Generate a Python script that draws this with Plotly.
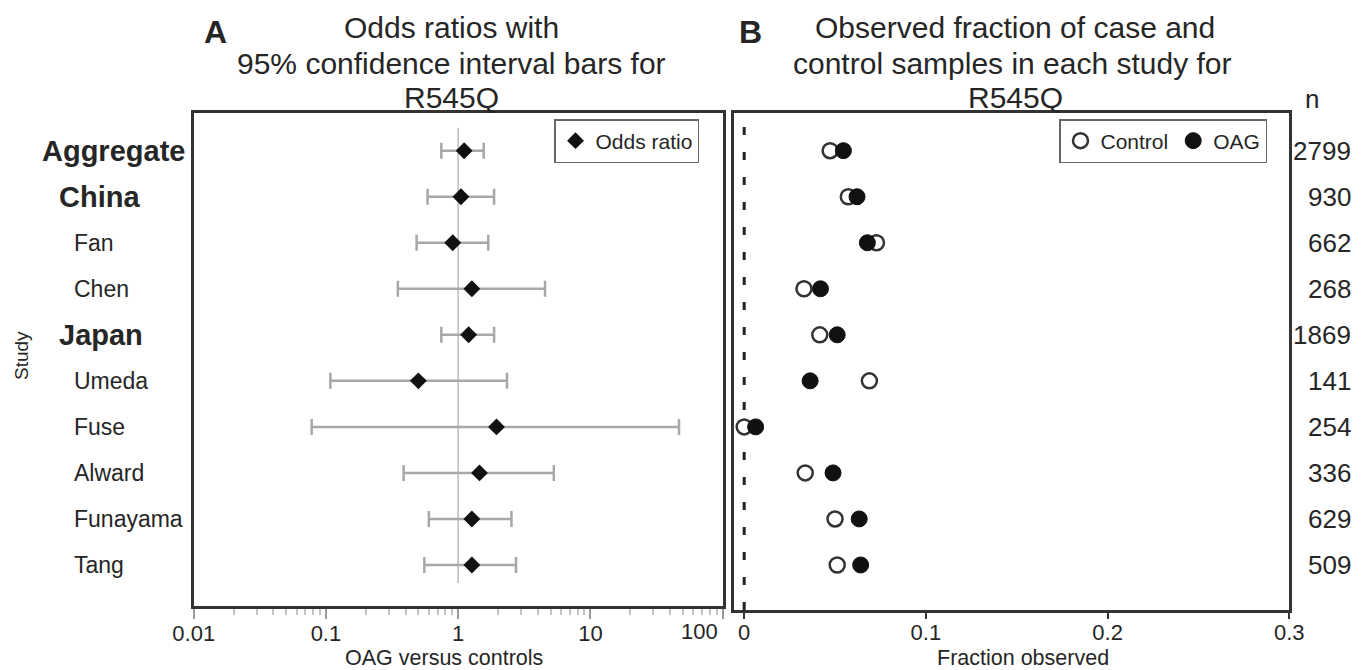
import plotly.graph_objects as go

# ---------------- data ----------------
studies = ["Aggregate", "China", "Fan", "Chen", "Japan", "Umeda", "Fuse", "Alward", "Funayama", "Tang"]
is_group = [True, True, False, False, True, False, False, False, False, False]
odds_ratio = [1.11, 1.05, 0.91, 1.27, 1.20, 0.50, 1.95, 1.45, 1.27, 1.27]
ci_low = [0.746, 0.587, 0.485, 0.35, 0.746, 0.108, 0.078, 0.387, 0.60, 0.555]
ci_high = [1.56, 1.87, 1.69, 4.54, 1.87, 2.34, 46.8, 5.29, 2.53, 2.74]
control_frac = [0.0473, 0.0573, 0.0728, 0.0329, 0.0416, 0.0689, 0.0, 0.0336, 0.050, 0.0512]
oag_frac = [0.0546, 0.0621, 0.0678, 0.0420, 0.0512, 0.0363, 0.0063, 0.0489, 0.0633, 0.0641]
n_samples = [2799, 930, 662, 268, 1869, 141, 254, 336, 629, 509]
or_ticks = [0.01, 0.1, 1, 10, 100]
or_ticktext = ["0.01", "0.1", "1", "10", "100"]
frac_ticks = [0, 0.1, 0.2, 0.3]
frac_ticktext = ["0", "0.1", "0.2", "0.3"]

W, H = 1368, 670
OFF = 8  # the page body adds an 8px margin; compensate so the picture lines up
def PX(p):
    return (p - OFF) / W
def PY(p):
    return 1 - (p - OFF) / H

rows = [len(studies) - i for i in range(len(studies))]
ROW_TOP_PX, ROW_STEP = 150.7, 46.03  # pixel position of first row and row pitch
def yrange(top_px, bottom_px):
    top = rows[0] + (ROW_TOP_PX - top_px) / ROW_STEP
    bottom = rows[0] - (bottom_px - ROW_TOP_PX) / ROW_STEP
    return [bottom, top]

TOP = 113
L_BOTTOM, R_BOTTOM = 606, 610
L_RANGE = yrange(TOP, L_BOTTOM)
R_RANGE = yrange(TOP, R_BOTTOM)

FONT = "Liberation Sans, Arial, sans-serif"
TXT = "#262626"

fig = go.Figure()

# reference line at OR = 1
fig.add_trace(go.Scatter(x=[1, 1], y=[0.61, 10.5], mode="lines",
                         line=dict(color="#bdbdbd", width=1.5),
                         showlegend=False, hoverinfo="skip", xaxis="x", yaxis="y"))
# odds ratios with CI
fig.add_trace(go.Scatter(
    x=odds_ratio, y=rows, mode="markers", name="Odds ratio",
    marker=dict(symbol="diamond", size=13, color="#111111"),
    error_x=dict(type="data", symmetric=False,
                 array=[h - o for h, o in zip(ci_high, odds_ratio)],
                 arrayminus=[o - l for o, l in zip(odds_ratio, ci_low)],
                 color="#a8a8a8", thickness=2.5, width=8),
    xaxis="x", yaxis="y", legend="legend"))

# dashed zero line on right panel
fig.add_trace(go.Scatter(x=[0, 0], y=R_RANGE, mode="lines",
                         line=dict(color="#222222", width=3, dash="8px,17px"),
                         showlegend=False, hoverinfo="skip", xaxis="x2", yaxis="y2"))
fig.add_trace(go.Scatter(
    x=control_frac, y=rows, mode="markers", name="Control",
    marker=dict(symbol="circle", size=15, color="white",
                line=dict(color="#333333", width=2.5)),
    xaxis="x2", yaxis="y2", legend="legend2"))
fig.add_trace(go.Scatter(
    x=oag_frac, y=rows, mode="markers", name="OAG",
    marker=dict(symbol="circle", size=16, color="#111111",
                line=dict(color="#111111", width=1)),
    xaxis="x2", yaxis="y2", legend="legend2"))

frame = dict(showline=True, linecolor="#333333", linewidth=2.5, mirror=True,
             showgrid=False, zeroline=False)

annotations = []
# row labels
for s, g, r in zip(studies, is_group, rows):
    if g:
        xpos = 40 if s == "Aggregate" else 56.5
        annotations.append(dict(text="<b>%s</b>" % s, x=PX(xpos), xref="paper", y=r, yref="y",
                                xanchor="left", yanchor="middle", showarrow=False,
                                font=dict(size=29, color=TXT, family=FONT)))
    else:
        annotations.append(dict(text=s, x=PX(72), xref="paper", y=r, yref="y",
                                xanchor="left", yanchor="middle", showarrow=False,
                                font=dict(size=23, color=TXT, family=FONT)))
# n labels
for nv, r in zip(n_samples, rows):
    annotations.append(dict(text=str(nv), x=PX(1353), xref="paper", y=r, yref="y2",
                            xanchor="right", yanchor="middle", showarrow=False,
                            font=dict(size=26, color=TXT, family=FONT)))
annotations.append(dict(text="n", x=PX(1312), xref="paper", y=PY(99), yref="paper",
                        xanchor="center", yanchor="middle", showarrow=False,
                        font=dict(size=26, color=TXT, family=FONT)))
# last log tick label sits inside the frame edge in the reference
annotations.append(dict(text=or_ticktext[-1], x=PX(699.6), y=PY(631), xref="paper", yref="paper",
                        showarrow=False, xanchor="center", yanchor="middle",
                        font=dict(size=22, color=TXT, family=FONT)))
# titles
annotations.append(dict(text="<b>A</b>", x=PX(215), y=PY(32), xref="paper", yref="paper",
                        showarrow=False, xanchor="center", yanchor="middle",
                        font=dict(size=32, color=TXT, family=FONT)))
annotations.append(dict(text="<b>B</b>", x=PX(750), y=PY(32), xref="paper", yref="paper",
                        showarrow=False, xanchor="center", yanchor="middle",
                        font=dict(size=32, color=TXT, family=FONT)))
for txt, cx, cy in [("Odds ratios with", 451, 27.5), ("95% confidence interval bars for", 451, 63),
                    ("R545Q", 451, 97.5),
                    ("Observed fraction of case and", 1015, 27.5),
                    ("control samples in each study for", 1012, 63), ("R545Q", 1015, 97.5)]:
    annotations.append(dict(text=txt, x=PX(cx), y=PY(cy), xref="paper", yref="paper",
                            showarrow=False, xanchor="center", yanchor="middle",
                            font=dict(size=30, color=TXT, family=FONT)))
# axis titles
annotations.append(dict(text="OAG versus controls", x=PX(443.6), y=PY(657.5), xref="paper", yref="paper",
                        showarrow=False, xanchor="center", yanchor="middle",
                        font=dict(size=21.5, color=TXT, family=FONT)))
annotations.append(dict(text="Fraction observed", x=PX(1022.7), y=PY(657.5), xref="paper", yref="paper",
                        showarrow=False, xanchor="center", yanchor="middle",
                        font=dict(size=21.5, color=TXT, family=FONT)))
annotations.append(dict(text="Study", x=PX(21), y=PY(356), xref="paper", yref="paper",
                        showarrow=False, xanchor="center", yanchor="middle", textangle=-90,
                        font=dict(size=19, color=TXT, family=FONT)))

fig.update_layout(
    template="none",
    width=W, height=H,
    margin=dict(l=0, r=0, t=0, b=0),
    paper_bgcolor="white", plot_bgcolor="white",
    font=dict(family=FONT, color=TXT),
    xaxis=dict(domain=[PX(193.7), PX(722.6)], type="log", range=[-2, 2.0],
               tickvals=or_ticks, ticktext=or_ticktext[:-1] + [""],
               ticks="outside", ticklen=10, tickcolor="#9a9a9a", tickwidth=1.5,
               minor=dict(ticks="outside", ticklen=6, tickcolor="#c4c4c4", dtick="D1", showgrid=False),
               tickfont=dict(size=22, color=TXT, family=FONT), ticklabelstandoff=-4,
               anchor="y", **frame),
    yaxis=dict(domain=[PY(L_BOTTOM), PY(TOP)], range=L_RANGE, showticklabels=False, ticks="",
               anchor="x", **frame),
    xaxis2=dict(domain=[PX(734), PX(1289.3)], range=[-0.0056, 0.3],
                tickvals=frac_ticks, ticktext=frac_ticktext,
                ticks="outside", ticklen=6, tickcolor="#333333", tickwidth=2,
                tickfont=dict(size=22, color=TXT, family=FONT), ticklabelstandoff=-5,
                anchor="y2", **frame),
    yaxis2=dict(domain=[PY(R_BOTTOM), PY(TOP)], range=R_RANGE, showticklabels=False, ticks="",
                anchor="x2", **frame),
    legend=dict(x=PX(699), y=PY(119), xanchor="right", yanchor="top",
                bgcolor="white", bordercolor="#666666", borderwidth=1.5,
                font=dict(size=21, color=TXT, family=FONT), itemwidth=30),
    legend2=dict(x=PX(1267), y=PY(119), xanchor="right", yanchor="top",
                 orientation="h", bgcolor="white", bordercolor="#666666", borderwidth=1.5,
                 font=dict(size=21, color=TXT, family=FONT), itemwidth=30),
    annotations=annotations,
    showlegend=True,
)

fig.write_html("out.html")
